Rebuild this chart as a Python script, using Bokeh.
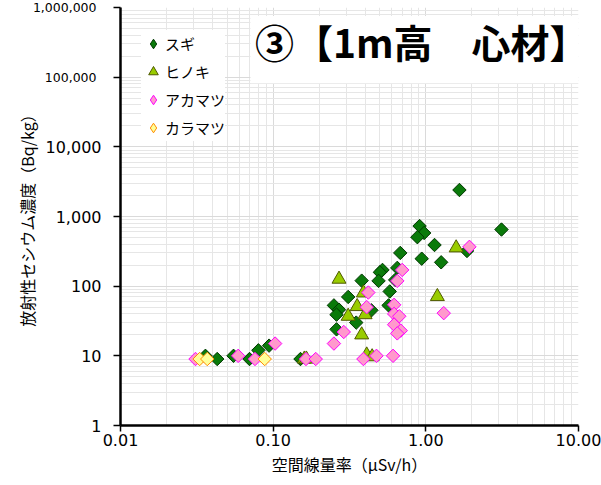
import numpy as np
from bokeh.plotting import figure
from bokeh.models import (FixedTicker, Legend, LegendItem, Label, BoxAnnotation, Range1d, LogAxis)
from bokeh.embed import file_html
from bokeh.resources import INLINE

# ---- data ----
sugi_x = [1.66, 3.13, 0.91, 0.975, 0.88, 1.14, 0.68, 0.94, 1.26, 1.86, 0.52, 0.50, 0.65,
          0.49, 0.38, 0.63, 0.58, 0.31, 0.25, 0.27, 0.26, 0.35, 0.26, 0.44, 0.57, 0.151,
          0.080, 0.094, 0.036, 0.043, 0.055, 0.070]
sugi_y = [2400, 650, 730, 580, 505, 390, 300, 248, 220, 320, 171, 158, 183,
          119, 120, 123, 84, 70, 53, 46, 39, 30, 24, 45, 53, 9,
          12, 14, 10, 9, 10, 9]

hinoki_x = [1.58, 1.19, 0.27, 0.39, 0.355, 0.40, 0.31, 0.38, 0.41, 0.445, 0.16, 0.165]
hinoki_y = [355, 71, 126, 80, 51, 39, 37, 20, 10.3, 9.7, 9, 9]

akamatsu_x = [1.93, 0.70, 0.65, 0.42, 0.41, 0.62, 0.62, 0.67, 0.62, 0.685, 0.65, 1.31,
              0.29, 0.25, 0.39, 0.475, 0.61, 0.164, 0.19, 0.103, 0.076, 0.059, 0.031]
akamatsu_y = [367, 171, 119, 81, 50, 54, 40, 37, 28, 23, 21, 41,
              22, 15, 9, 10, 10, 9, 9, 15, 9, 10, 9]

karamatsu_x = [0.033, 0.037, 0.088]
karamatsu_y = [9, 9, 9]

series_names = ["スギ", "ヒノキ", "アカマツ", "カラマツ"]
x_ticks = [0.01, 0.1, 1, 10]
x_tick_labels = ["0.01", "0.10", "1.00", "10.00"]
y_ticks = [1, 10, 100, 1000, 10000, 100000, 1000000]
y_tick_labels = ["1", "10", "100", "1,000", "10,000", "100,000", "1,000,000"]
title_text = "③【1m高　心材】"
x_title = "空間線量率（μSv/h）"
y_title = "放射性セシウム濃度（Bq/kg）"

CJK = "Noto Sans CJK JP"
NUM = "DejaVu Sans"

p = figure(width=601, height=485, x_axis_type="log", y_axis_type="log",
           x_range=Range1d(0.01, 10), y_range=Range1d(1, 1000000),
           output_backend="svg", toolbar_location=None,
           min_border_left=120, min_border_right=23, min_border_top=7, min_border_bottom=60)
p.outline_line_color = None
p.background_fill_color = "white"
p.border_fill_color = "white"

x_minor = [m * t for t in x_ticks[:-1] for m in range(2, 10)]
y_minor = [m * t for t in y_ticks[:-1] for m in range(2, 10)]
p.xaxis.ticker = FixedTicker(ticks=x_ticks, minor_ticks=x_minor)
p.yaxis.ticker = FixedTicker(ticks=y_ticks, minor_ticks=y_minor)
p.xaxis.major_label_overrides = {t: l for t, l in zip(x_ticks, x_tick_labels)}
big = {t: (l if t < 100000 else "") for t, l in zip(y_ticks, y_tick_labels)}
p.yaxis.major_label_overrides = big

for ax in (p.xaxis, p.yaxis):
    ax.axis_line_width = 2.5
    ax.axis_line_color = "black"
    ax.major_tick_line_color = "black"
    ax.major_tick_line_width = 1.5
    ax.major_tick_in = 0
    ax.minor_tick_line_color = None
    ax.major_label_text_font = NUM
    ax.major_label_text_font_size = "16px"
    ax.major_label_text_color = "black"
    ax.axis_label_text_font = CJK
    ax.axis_label_text_font_size = "16px"
    ax.axis_label_text_font_style = "normal"
    ax.axis_label_text_color = "black"

p.xaxis.major_tick_out = 6
p.xaxis.major_label_standoff = 2
p.xaxis.axis_label = x_title
p.xaxis.axis_label_standoff = 3
p.yaxis.major_tick_out = 7
p.yaxis.major_label_standoff = 12

# outer y axis carrying the two small top labels and the axis title
small = {t: l for t, l in zip(y_ticks, y_tick_labels) if t >= 100000}
outer = LogAxis(ticker=FixedTicker(ticks=list(small.keys()), minor_ticks=[]),
                major_label_overrides=small,
                axis_line_color=None, major_tick_line_color=None, minor_tick_line_color=None,
                major_tick_in=0, major_tick_out=0, major_label_standoff=-54,
                major_label_text_font=NUM, major_label_text_font_size="12.5px",
                major_label_text_color="black",
                axis_label=y_title, axis_label_standoff=-9,
                axis_label_text_font=CJK, axis_label_text_font_size="16px",
                axis_label_text_font_style="normal", axis_label_text_color="black")
p.add_layout(outer, "left")

for g in (p.xgrid, p.ygrid):
    g.grid_line_color = "#dadada"
    g.grid_line_width = 1
    g.minor_grid_line_color = "#e6e6e6"
    g.minor_grid_line_width = 1

# title box
p.add_layout(BoxAnnotation(left=0.071, right=10, bottom=81600, top=757000,
                           fill_color="white", fill_alpha=1, line_color=None))
p.add_layout(Label(x=10, y=333500, x_offset=10, text=title_text, text_align="right",
                   text_baseline="middle", text_font=CJK, text_font_size="39px",
                   text_font_style="bold", text_color="black"))

ang = np.pi / 4
styles = [dict(fill_color="#0a7a0a", line_color="#003800"),
          dict(fill_color="#99cc00", line_color="#4f5a00"),
          dict(fill_color="#ff99cc", line_color="#ff00ff"),
          dict(fill_color="#ffff99", line_color="#ff8c00")]

r1 = p.scatter(sugi_x, sugi_y, marker="square", angle=ang, size=9.5, line_width=1, **styles[0])
r2 = p.scatter(hinoki_x, hinoki_y, marker="triangle", size=14, line_width=1, **styles[1])
r3 = p.scatter(akamatsu_x, akamatsu_y, marker="square", angle=ang, size=9.5, line_width=1, **styles[2])
r4 = p.scatter(karamatsu_x, karamatsu_y, marker="square", angle=ang, size=9.5, line_width=1, **styles[3])

# legend-only renderers (legend glyphs are never rotated, so use the diamond shape);
# they hold a single NaN point so nothing is drawn in the plot area
l1 = p.scatter([np.nan], [np.nan], marker="diamond", line_width=1, **styles[0])
l3 = p.scatter([np.nan], [np.nan], marker="diamond", line_width=1, **styles[2])
l4 = p.scatter([np.nan], [np.nan], marker="diamond", line_width=1, **styles[3])

legend = Legend(items=[LegendItem(label=n, renderers=[r]) for n, r in
                       zip(series_names, [l1, r2, l3, l4])],
                location=(21, 284))
legend.label_text_font = CJK
legend.label_text_font_size = "15px"
legend.label_text_color = "black"
legend.glyph_width = 24
legend.glyph_height = 27
legend.label_standoff = 0
legend.spacing = 1
legend.padding = 4
legend.margin = 0
legend.border_line_color = None
legend.background_fill_color = "white"
legend.background_fill_alpha = 1
p.add_layout(legend)

open("out.html", "w").write(file_html(p, INLINE))
